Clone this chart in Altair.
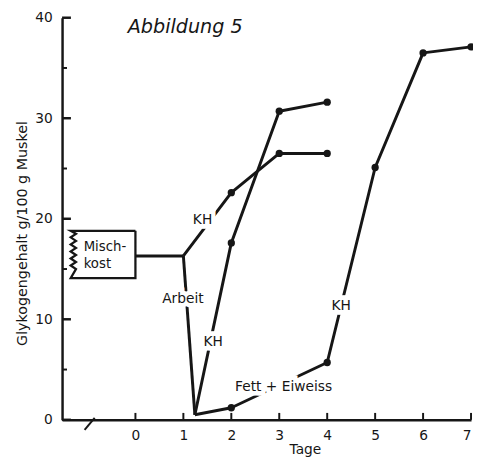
import altair as alt
import pandas as pd

INK = "#161616"
FONT = "DejaVu Sans"

# ---- data ----
mix_x = [0, 1]
mix_y = [16.3, 16.3]
kh1_x = [1, 2, 3, 4]
kh1_y = [16.3, 22.6, 26.5, 26.5]
arbeit_x = [1, 1.24]
arbeit_y = [16.3, 0.5]
kh2_x = [1.24, 2, 3, 4]
kh2_y = [0.5, 17.6, 30.7, 31.6]
fe_x = [1.24, 2, 4]
fe_y = [0.5, 1.2, 5.7]
kh3_x = [4, 5, 6, 7]
kh3_y = [5.7, 25.1, 36.5, 37.1]

pt_x = [2, 3, 4, 2, 3, 4, 2, 4, 5, 6, 7]
pt_y = [22.6, 26.5, 26.5, 17.6, 30.7, 31.6, 1.2, 5.7, 25.1, 36.5, 37.1]

# "Mischkost" box with coil on its left side
box_x = [0, -1.35, -1.24, -1.35, -1.24, -1.35, -1.24, -1.35, -1.24, -1.35, -1.24, -1.35, -1.24, -1.35, 0, 0]
box_y = [18.8, 18.8, 18.5, 18.15, 17.8, 17.45, 17.1, 16.75, 16.4, 16.05, 15.7, 15.35, 15.0, 14.1, 14.1, 18.8]

# axis ticks
x_ticks = [0, 1, 2, 3, 4, 5, 6, 7]
y_major = [0, 10, 20, 30, 40]
y_minor = [5, 15, 25, 35]

# axis break mark
brk_x = [-1.06]
brk_x2 = [-0.85]
brk_y = [-1.0]
brk_y2 = [0.2]

# annotations
lab_text = ["KH", "Arbeit", "KH", "Fett + Eiweiss", "KH"]
lab_x = [1.40, 0.99, 1.62, 3.09, 4.29]
lab_y = [19.9, 12.0, 7.7, 3.3, 11.3]
box_text = ["Misch-", "kost"]
box_tx = [-1.08, -1.08]
box_ty = [17.2, 15.5]
title_text = ["Abbildung 5"]
title_x = [-0.16]
title_y = [38.5]

# ---- build tables ----
rows = []
for name, xs_, ys_ in [("mix", mix_x, mix_y), ("kh1", kh1_x, kh1_y), ("arbeit", arbeit_x, arbeit_y),
                       ("kh2", kh2_x, kh2_y), ("fe", fe_x, fe_y), ("kh3", kh3_x, kh3_y)]:
    for i, (a, b) in enumerate(zip(xs_, ys_)):
        rows.append({"s": name, "i": i, "x": a, "y": b})
lines_df = pd.DataFrame(rows)
pts_df = pd.DataFrame({"x": pt_x, "y": pt_y})
box_df = pd.DataFrame({"i": list(range(len(box_x))), "x": box_x, "y": box_y})
xt_df = pd.DataFrame({"x": x_ticks})
ymaj_df = pd.DataFrame({"y": y_major})
ymin_df = pd.DataFrame({"y": y_minor})
brk_df = pd.DataFrame({"x": brk_x, "x2": brk_x2, "y": brk_y, "y2": brk_y2})
lab_df = pd.DataFrame({"t": lab_text, "x": lab_x, "y": lab_y})
boxt_df = pd.DataFrame({"t": box_text, "x": box_tx, "y": box_ty})
title_df = pd.DataFrame({"t": title_text, "x": title_x, "y": title_y})

W, H = 416, 409
XS = alt.Scale(domain=[-1.53, 7], nice=False, zero=False)
YS = alt.Scale(domain=[0, 40], nice=False, zero=False)

XAX = alt.Axis(
    values=x_ticks, format="d", ticks=False, tickSize=0, labelPadding=9,
    labelFontSize=14, labelFont=FONT, labelColor=INK, grid=False,
    domainColor=INK, domainWidth=2.5,
    title="Tage", titleFont=FONT, titleFontSize=14, titleFontWeight="normal",
    titleColor=INK, titleX=247, titleY=30, titleAlign="center", titleBaseline="middle")
YAX = alt.Axis(
    values=y_major, ticks=False, tickSize=0, labelPadding=10,
    labelFontSize=14, labelFont=FONT, labelColor=INK, grid=False,
    domainColor=INK, domainWidth=2.5,
    title="Glykogengehalt g/100 g Muskel", titleFont=FONT, titleFontSize=14.5,
    titleFontWeight="normal", titleColor=INK, titleAngle=270,
    titleX=-40, titleY=219, titleAlign="center", titleBaseline="middle")


def X(field="x"):
    return alt.X(f"{field}:Q", scale=XS, axis=XAX)


def Y(field="y"):
    return alt.Y(f"{field}:Q", scale=YS, axis=YAX)


xticks = alt.Chart(xt_df).mark_rule(color=INK, strokeWidth=2).encode(
    x=X(), y=alt.value(H), y2=alt.value(H - 7))
ymaj = alt.Chart(ymaj_df).mark_rule(color=INK, strokeWidth=2.5).encode(
    y=Y(), x=alt.value(0), x2=alt.value(9))
ymin = alt.Chart(ymin_df).mark_rule(color=INK, strokeWidth=2).encode(
    y=Y(), x=alt.value(0), x2=alt.value(5))
brk = alt.Chart(brk_df).mark_rule(color=INK, strokeWidth=2).encode(
    x=X(), x2="x2:Q", y=Y(), y2="y2:Q")

lines = alt.Chart(lines_df).mark_line(color=INK, strokeWidth=3, strokeJoin="round", strokeCap="butt").encode(
    x=X(), y=Y(), detail="s:N", order="i:Q")
pts = alt.Chart(pts_df).mark_circle(color=INK, size=55, opacity=1).encode(x=X(), y=Y())
box = alt.Chart(box_df).mark_line(color=INK, strokeWidth=2.3, strokeJoin="miter").encode(
    x=X(), y=Y(), order="i:Q")

halo = alt.Chart(lab_df).mark_text(font=FONT, fontSize=14, fill="white", stroke="white",
                                   strokeWidth=9, baseline="middle", align="center").encode(
    x=X(), y=Y(), text="t:N")
labs = alt.Chart(lab_df).mark_text(font=FONT, fontSize=14, color=INK,
                                   baseline="middle", align="center").encode(
    x=X(), y=Y(), text="t:N")
boxt = alt.Chart(boxt_df).mark_text(font=FONT, fontSize=13.5, color=INK,
                                    baseline="middle", align="left").encode(
    x=X(), y=Y(), text="t:N")
ttl = alt.Chart(title_df).mark_text(font=FONT, fontSize=19.5, fontStyle="italic", color=INK,
                                    baseline="alphabetic", align="left").encode(
    x=X(), y=Y(), text="t:N")

chart = alt.layer(xticks, ymaj, ymin, brk, box, lines, pts, halo, labs, boxt, ttl).properties(
    width=W, height=H,
    autosize=alt.AutoSizeParams(type="none"),
    padding={"left": 55, "top": 6, "right": 2, "bottom": 37},
    background="white",
).configure_view(stroke=None)

chart.save("out.html", embed_options={"renderer": "svg", "actions": False})
